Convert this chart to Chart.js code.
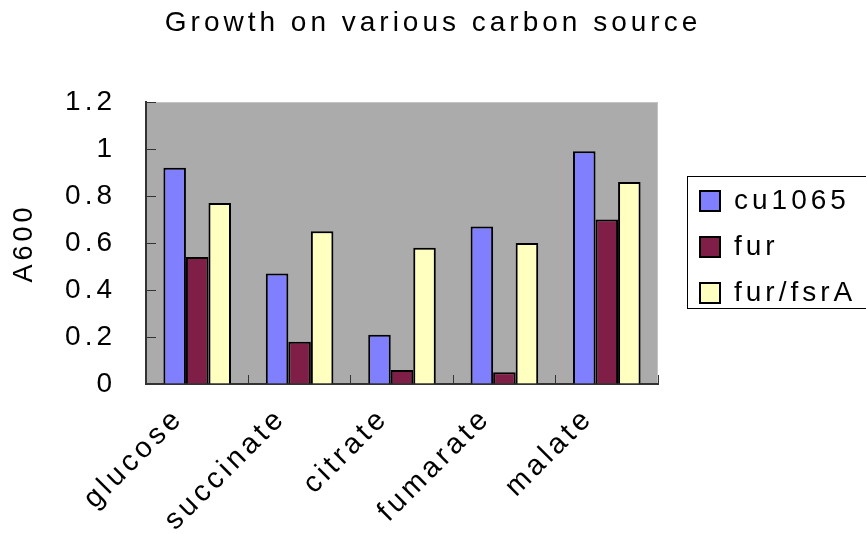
<!DOCTYPE html>
<html>
<head>
<meta charset="utf-8">
<script src="https://cdn.jsdelivr.net/npm/chart.js@4.4.1/dist/chart.umd.min.js"></script>
<style>
  html, body { margin: 0; padding: 0; background: #ffffff; }
  #wrap { width: 866px; height: 534px; }
</style>
</head>
<body>
<div id="wrap"><canvas id="chart" width="866" height="534"></canvas></div>
<script>
// Growth (A600) of three strains on different carbon sources
const carbonSources = ['glucose', 'succinate', 'citrate', 'fumarate', 'malate'];
const cu1065 = [0.92, 0.47, 0.21, 0.67, 0.99];
const fur = [0.54, 0.18, 0.06, 0.05, 0.70];
const furFsrA = [0.77, 0.65, 0.58, 0.60, 0.86];
const yTicks = [0, 0.2, 0.4, 0.6, 0.8, 1, 1.2];
const yTickLabels = ['0', '0.2', '0.4', '0.6', '0.8', '1', '1.2'];

Chart.defaults.font.family = "'Liberation Sans', Arial, sans-serif";
Chart.defaults.color = '#000000';

const LETTER_SPACING = 4;
const LEGEND_WIDTH = 184;

// Wide letter spacing for all chart text; the legend box is widened to hold it
const spacing = {
  id: 'spacing',
  beforeLayout(chart) {
    chart.ctx.letterSpacing = LETTER_SPACING + 'px';
    const lg = chart.legend;
    if (lg && !lg._wideFit) {
      const fit = lg.fit.bind(lg);
      lg.fit = function () { fit(); this.width = LEGEND_WIDTH; };
      lg._wideFit = true;
    }
  },
  beforeDraw(chart) { chart.ctx.letterSpacing = LETTER_SPACING + 'px'; }
};

// Grey plot area behind the bars
const plotArea = {
  id: 'plotArea',
  beforeDraw(chart) {
    const { ctx, chartArea: a } = chart;
    ctx.save();
    ctx.fillStyle = '#ababab';
    ctx.fillRect(a.left, a.top, a.right - a.left, a.bottom - a.top);
    ctx.strokeStyle = '#c4c4c4';
    ctx.lineWidth = 1;
    ctx.beginPath();
    ctx.moveTo(a.left, a.top + 0.5);
    ctx.lineTo(a.right - 0.5, a.top + 0.5);
    ctx.lineTo(a.right - 0.5, a.bottom);
    ctx.stroke();
    ctx.restore();
  }
};

// Thin frame around the legend entries
const legendFrame = {
  id: 'legendFrame',
  afterDraw(chart) {
    const lg = chart.legend;
    if (!lg || !lg.legendHitBoxes.length) return;
    const boxes = lg.legendHitBoxes;
    const first = boxes[0], last = boxes[boxes.length - 1];
    const x = first.left - 13;
    const y = first.top - 11;
    const bottom = last.top + last.height + 1;
    const { ctx } = chart;
    ctx.save();
    ctx.strokeStyle = '#000000';
    ctx.lineWidth = 1;
    ctx.strokeRect(Math.round(x) + 0.5, Math.round(y) + 0.5, chart.width + 10, Math.round(bottom - y));
    ctx.restore();
  }
};

new Chart(document.getElementById('chart'), {
  type: 'bar',
  data: {
    labels: carbonSources,
    datasets: [
      { label: 'cu1065', data: cu1065, backgroundColor: '#8080ff', borderColor: '#000000', borderWidth: 2 },
      { label: 'fur', data: fur, backgroundColor: '#7f1f47', borderColor: '#000000', borderWidth: 2 },
      { label: 'fur/fsrA', data: furFsrA, backgroundColor: '#ffffc0', borderColor: '#000000', borderWidth: 2 }
    ]
  },
  plugins: [spacing, plotArea, legendFrame],
  options: {
    responsive: false,
    devicePixelRatio: 1,
    animation: false,
    layout: { padding: 0 },
    datasets: { bar: { categoryPercentage: 0.66, barPercentage: 1.0 } },
    plugins: {
      tooltip: { enabled: false },
      title: {
        display: true,
        text: 'Growth on various carbon source',
        font: { size: 28, weight: 'normal' },
        color: '#000000',
        padding: { top: 6, bottom: 62.4 }
      },
      legend: {
        position: 'right',
        align: 'center',
        fullSize: false,
        title: { display: true, text: ' ', font: { size: 1 }, padding: { top: 0, bottom: 6.8 } },
        labels: {
          font: { size: 28 },
          color: '#000000',
          boxWidth: 20,
          boxHeight: 20,
          padding: 18
        }
      }
    },
    scales: {
      x: {
        grid: { drawOnChartArea: false, drawTicks: true, tickLength: -9, color: '#333333', lineWidth: 1 },
        border: { display: true, color: '#333333', width: 2 },
        ticks: {
          autoSkip: false, minRotation: 45, maxRotation: 45,
          font: { size: 29 }, color: '#000000', padding: 26, labelOffset: -18
        },
        afterFit(s) { s.height = 150; }
      },
      y: {
        min: 0, max: 1.2,
        afterBuildTicks(s) { s.ticks = yTicks.map(v => ({ value: v })); },
        grid: { drawOnChartArea: false, drawTicks: true, tickLength: -10, color: '#333333', lineWidth: 1 },
        border: { display: true, color: '#333333', width: 2 },
        ticks: {
          font: { size: 28 }, color: '#000000', padding: 40,
          callback: (v, i) => yTickLabels[i]
        },
        title: { display: true, text: 'A600', font: { size: 27 }, color: '#000000', padding: { top: 8, bottom: 0 } },
        afterFit(s) { s.width = 146; }
      },
      gap: {
        type: 'linear', position: 'right', display: true, min: 0, max: 1,
        grid: { display: false }, ticks: { display: false }, border: { display: false },
        afterFit(s) { s.width = 24; }
      }
    }
  }
});
</script>
</body>
</html>
